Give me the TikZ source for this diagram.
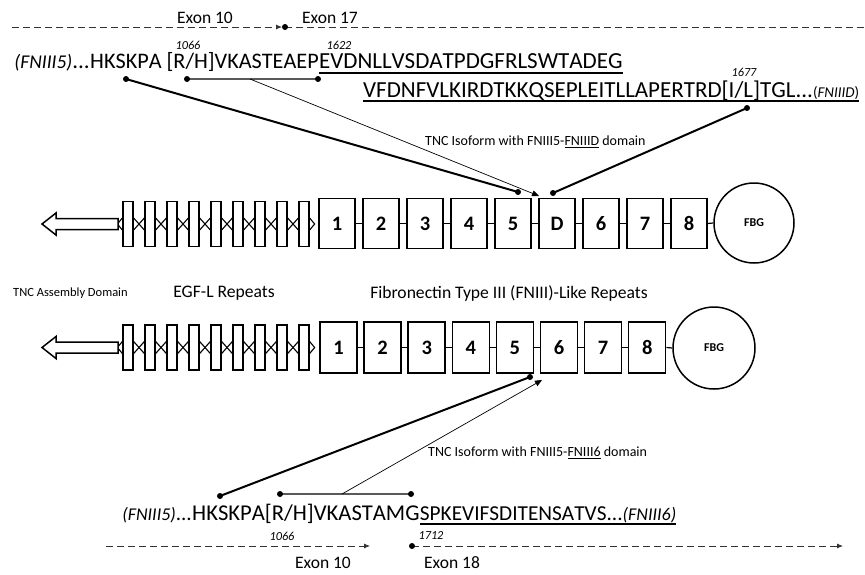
\documentclass[tikz,border=0pt]{standalone}
\usepackage{fontspec}
\setmainfont{Carlito}
\newfontfamily\seqfont{Carlito}[Kerning=Off]
\usetikzlibrary{arrows.meta}
\tikzset{
  seq/.style={inner sep=0pt, anchor=base west, font=\seqfont\fontsize{23}{23}\selectfont},
  fnbox/.style={draw, line width=1.5pt, minimum width=36pt, minimum height=50pt, inner sep=0pt, font=\bfseries\fontsize{20.5}{20.5}\selectfont},
  egf/.style={draw, line width=1.3pt, minimum width=10pt, minimum height=45pt, inner sep=0pt, fill=white},
  fbg/.style={draw, circle, line width=1.5pt, minimum size=80pt, inner sep=0pt, font=\bfseries\fontsize{12}{12}\selectfont},
  link/.style={line width=1.2pt},
  thickln/.style={line width=2pt},
  thinln/.style={line width=0.7pt},
  hln/.style={line width=1.2pt, black!65},
  ulln/.style={line width=1.6pt},
  dashln/.style={line width=0.8pt, dash pattern=on 7pt off 4pt, black!80},
  lbl/.style={inner sep=0pt},
  num/.style={inner sep=0pt, font=\itshape\fontsize{12.3}{12.3}\selectfont},
  exon/.style={inner sep=0pt, font=\fontsize{17.5}{17.5}\selectfont},
  small/.style={inner sep=0pt, anchor=west, font=\fontsize{14}{14}\selectfont},
  tipln/.style={thinln, -{Triangle[length=7pt,width=6pt]}},
}
\newcommand{\dotat}[1]{\fill (#1) circle (3pt);}
\newcommand{\pfx}[2]{{\itshape\fontsize{#1}{#1}\selectfont #2}}
\newcommand{\egfrow}[2]{%
  \foreach \k in {0,...,8} {
    \node[egf] (#1e\k) at (128+22*\k, #2) {};
  }
  \foreach \k [evaluate=\k as \n using int(\k+1)] in {0,...,7} {
    \draw[line width=1.1pt] ([yshift=6pt]#1e\k.east) -- ([yshift=-6pt]#1e\n.west);
    \draw[line width=1.1pt] ([yshift=-6pt]#1e\k.east) -- ([yshift=6pt]#1e\n.west);
  }
  \draw[line width=1.1pt] ([yshift=6pt]#1e0.west) -- ([xshift=-5pt]#1e0.west) -- ([yshift=-6pt]#1e0.west);
  \draw[line width=1.1pt] ([yshift=6pt]#1e8.east) -- ([xshift=5pt]#1e8.east) -- ([yshift=-6pt]#1e8.east);
  \draw[line width=1.5pt, fill=white] (118,#2-5.5) -- (56,#2-5.5) -- (56,#2-11) -- (42,#2) -- (56,#2+11) -- (56,#2+5.5) -- (118,#2+5.5) -- cycle;
}
\begin{document}
\begin{tikzpicture}[x=1pt,y=-1pt]
\useasboundingbox (0,0) rectangle (865,574);

% ---------- top exon bar ----------
\coordinate (t0) at (12,27);
\coordinate (t1) at (282,27);
\coordinate (t2) at (285,27);
\coordinate (t3) at (865,27);
\draw[dashln, -{Latex[length=6pt,width=5pt]}] (t0) -- (t1);
\draw[dashln] (t2) -- (t3);
\dotat{t2}
\node[exon] (ex10a) at (205,18) {Exon 10};
\node[exon] (ex17) at (330,18) {Exon 17};
\node[num] (n1066a) at (188,45) {1066};
\node[num] (n1622) at (339,45) {1622};
\node[num] (n1677) at (744,72) {1677};

% ---------- top sequence ----------
\node[seq, anchor=base east] (s1p) at (90,68) {\pfx{19.5}{(FNIII5)}...};
\node[seq, font=\seqfont\fontsize{22.2}{22.2}\selectfont] (s1a) at (90,68) {HKSKPA [R/H]VKASTEAEP};
\node[seq] (s1b) at (s1a.base east) {EVDNLLVSDATPDGFRLSWTADEG};
\draw[ulln] ([yshift=-5pt]s1b.base west) -- ([yshift=-5pt]s1b.base east);
\node[seq] (s2) at (363,97) {VFDNFVLKIRDTKKQSEPLEITLLAPERTRD[I/L]TGL...{\fontsize{15}{15}\selectfont(\textit{FNIIID})}};
\draw[ulln] ([yshift=-4pt]s2.base west) -- ([yshift=-4pt]s2.base east);

% ---------- row 1 ----------
\egfrow{a}{224}
\foreach \lab [count=\i from 0] in {1,2,3,4,5,D,6,7,8} {
  \node[fnbox] (a\i) at (337+44*\i,223.5) {\lab};
}
\node[fbg] (afbg) at (754,223) {FBG};
\foreach \i [evaluate=\i as \n using int(\i+1)] in {0,...,7} {
  \draw[link] (a\i.east) -- (a\n.west);
}
\draw[link] (a8.east) -- (afbg.west);

% pointers row 1
\coordinate (p1) at (126,79);
\coordinate (p2) at (518,192);
\coordinate (q1) at (187,79);
\coordinate (q2) at (318,79);
\coordinate (qm) at (250,79);
\coordinate (qt) at (539,196);
\coordinate (r1) at (747,108);
\coordinate (r2) at (553,193);
\draw[thickln] (p1) -- (p2);
\draw[hln] (q1) -- (q2);
\draw[tipln] (qm) -- (qt);
\draw[thickln] (r1) -- (r2);
\foreach \c in {p1,p2,q1,q2,r1,r2} {\dotat{\c}}
\node[small] (iso1) at (425,142) {TNC Isoform with FNIII5-\underline{FNIIID} domain};

% ---------- labels ----------
\node[lbl, anchor=west, font=\fontsize{12.5}{12.5}\selectfont] (asm) at (13,293) {TNC Assembly Domain};
\node[lbl, font=\fontsize{17.6}{17.6}\selectfont] (egfl) at (224,293) {EGF-L Repeats};
\node[lbl, font=\fontsize{17.6}{17.6}\selectfont] (fnl) at (509,293) {Fibronectin Type III (FNIII)-Like Repeats};

% ---------- row 2 ----------
\egfrow{b}{347.5}
\foreach \lab [count=\i from 0] in {1,2,3,4,5,6,7,8} {
  \node[fnbox, minimum height=51pt, minimum width=37pt] (b\i) at (338.5+44.1*\i,347.5) {\lab};
}
\node[fbg, minimum size=82pt] (bfbg) at (714,348) {FBG};
\foreach \i [evaluate=\i as \n using int(\i+1)] in {0,...,6} {
  \draw[link] (b\i.east) -- (b\n.west);
}
\draw[link] (b7.east) -- (bfbg.west);

% pointers row 2
\coordinate (u1) at (220,496);
\coordinate (u2) at (530,377);
\coordinate (v1) at (280,494);
\coordinate (v2) at (411,494);
\coordinate (vm) at (342,494);
\coordinate (vt) at (542,380);
\draw[thickln] (u1) -- (u2);
\draw[hln] (v1) -- (v2);
\draw[tipln] (vm) -- (vt);
\foreach \c in {u1,u2,v1,v2} {\dotat{\c}}
\node[small] (iso2) at (428,453) {TNC Isoform with FNIII5-\underline{FNIII6} domain};

% ---------- bottom sequence ----------
\node[seq, anchor=base east, font=\seqfont\fontsize{21}{21}\selectfont] (s3p) at (192,520) {\pfx{18}{(FNIII5)}...};
\node[seq, font=\seqfont\fontsize{22.6}{22.6}\selectfont] (s3a) at (192,520) {HKSKPA[R/H]VKASTAMG};
\node[seq, font=\seqfont\fontsize{21.3}{21.3}\selectfont] (s3b) at (s3a.base east) {SPKEVIFSDITENSATVS...\pfx{18}{(FNIII6)}};
\draw[ulln] ([yshift=-4pt]s3b.base west) -- ([yshift=-4pt]s3b.base east);

% ---------- bottom exon bar ----------
\coordinate (w0) at (106,546);
\coordinate (w1) at (370,546);
\coordinate (w2) at (412,546);
\coordinate (w3) at (843,546);
\draw[dashln, -{Latex[length=6pt,width=5pt]}] (w0) -- (w1);
\draw[dashln, -{Latex[length=6pt,width=5pt]}] (w2) -- (w3);
\dotat{w2}
\node[num] (n1066b) at (282,536) {1066};
\node[num] (n1712) at (431,536) {1712};
\node[exon] (ex10b) at (323,563) {Exon 10};
\node[exon] (ex18) at (452,563) {Exon 18};
\end{tikzpicture}
\end{document}
